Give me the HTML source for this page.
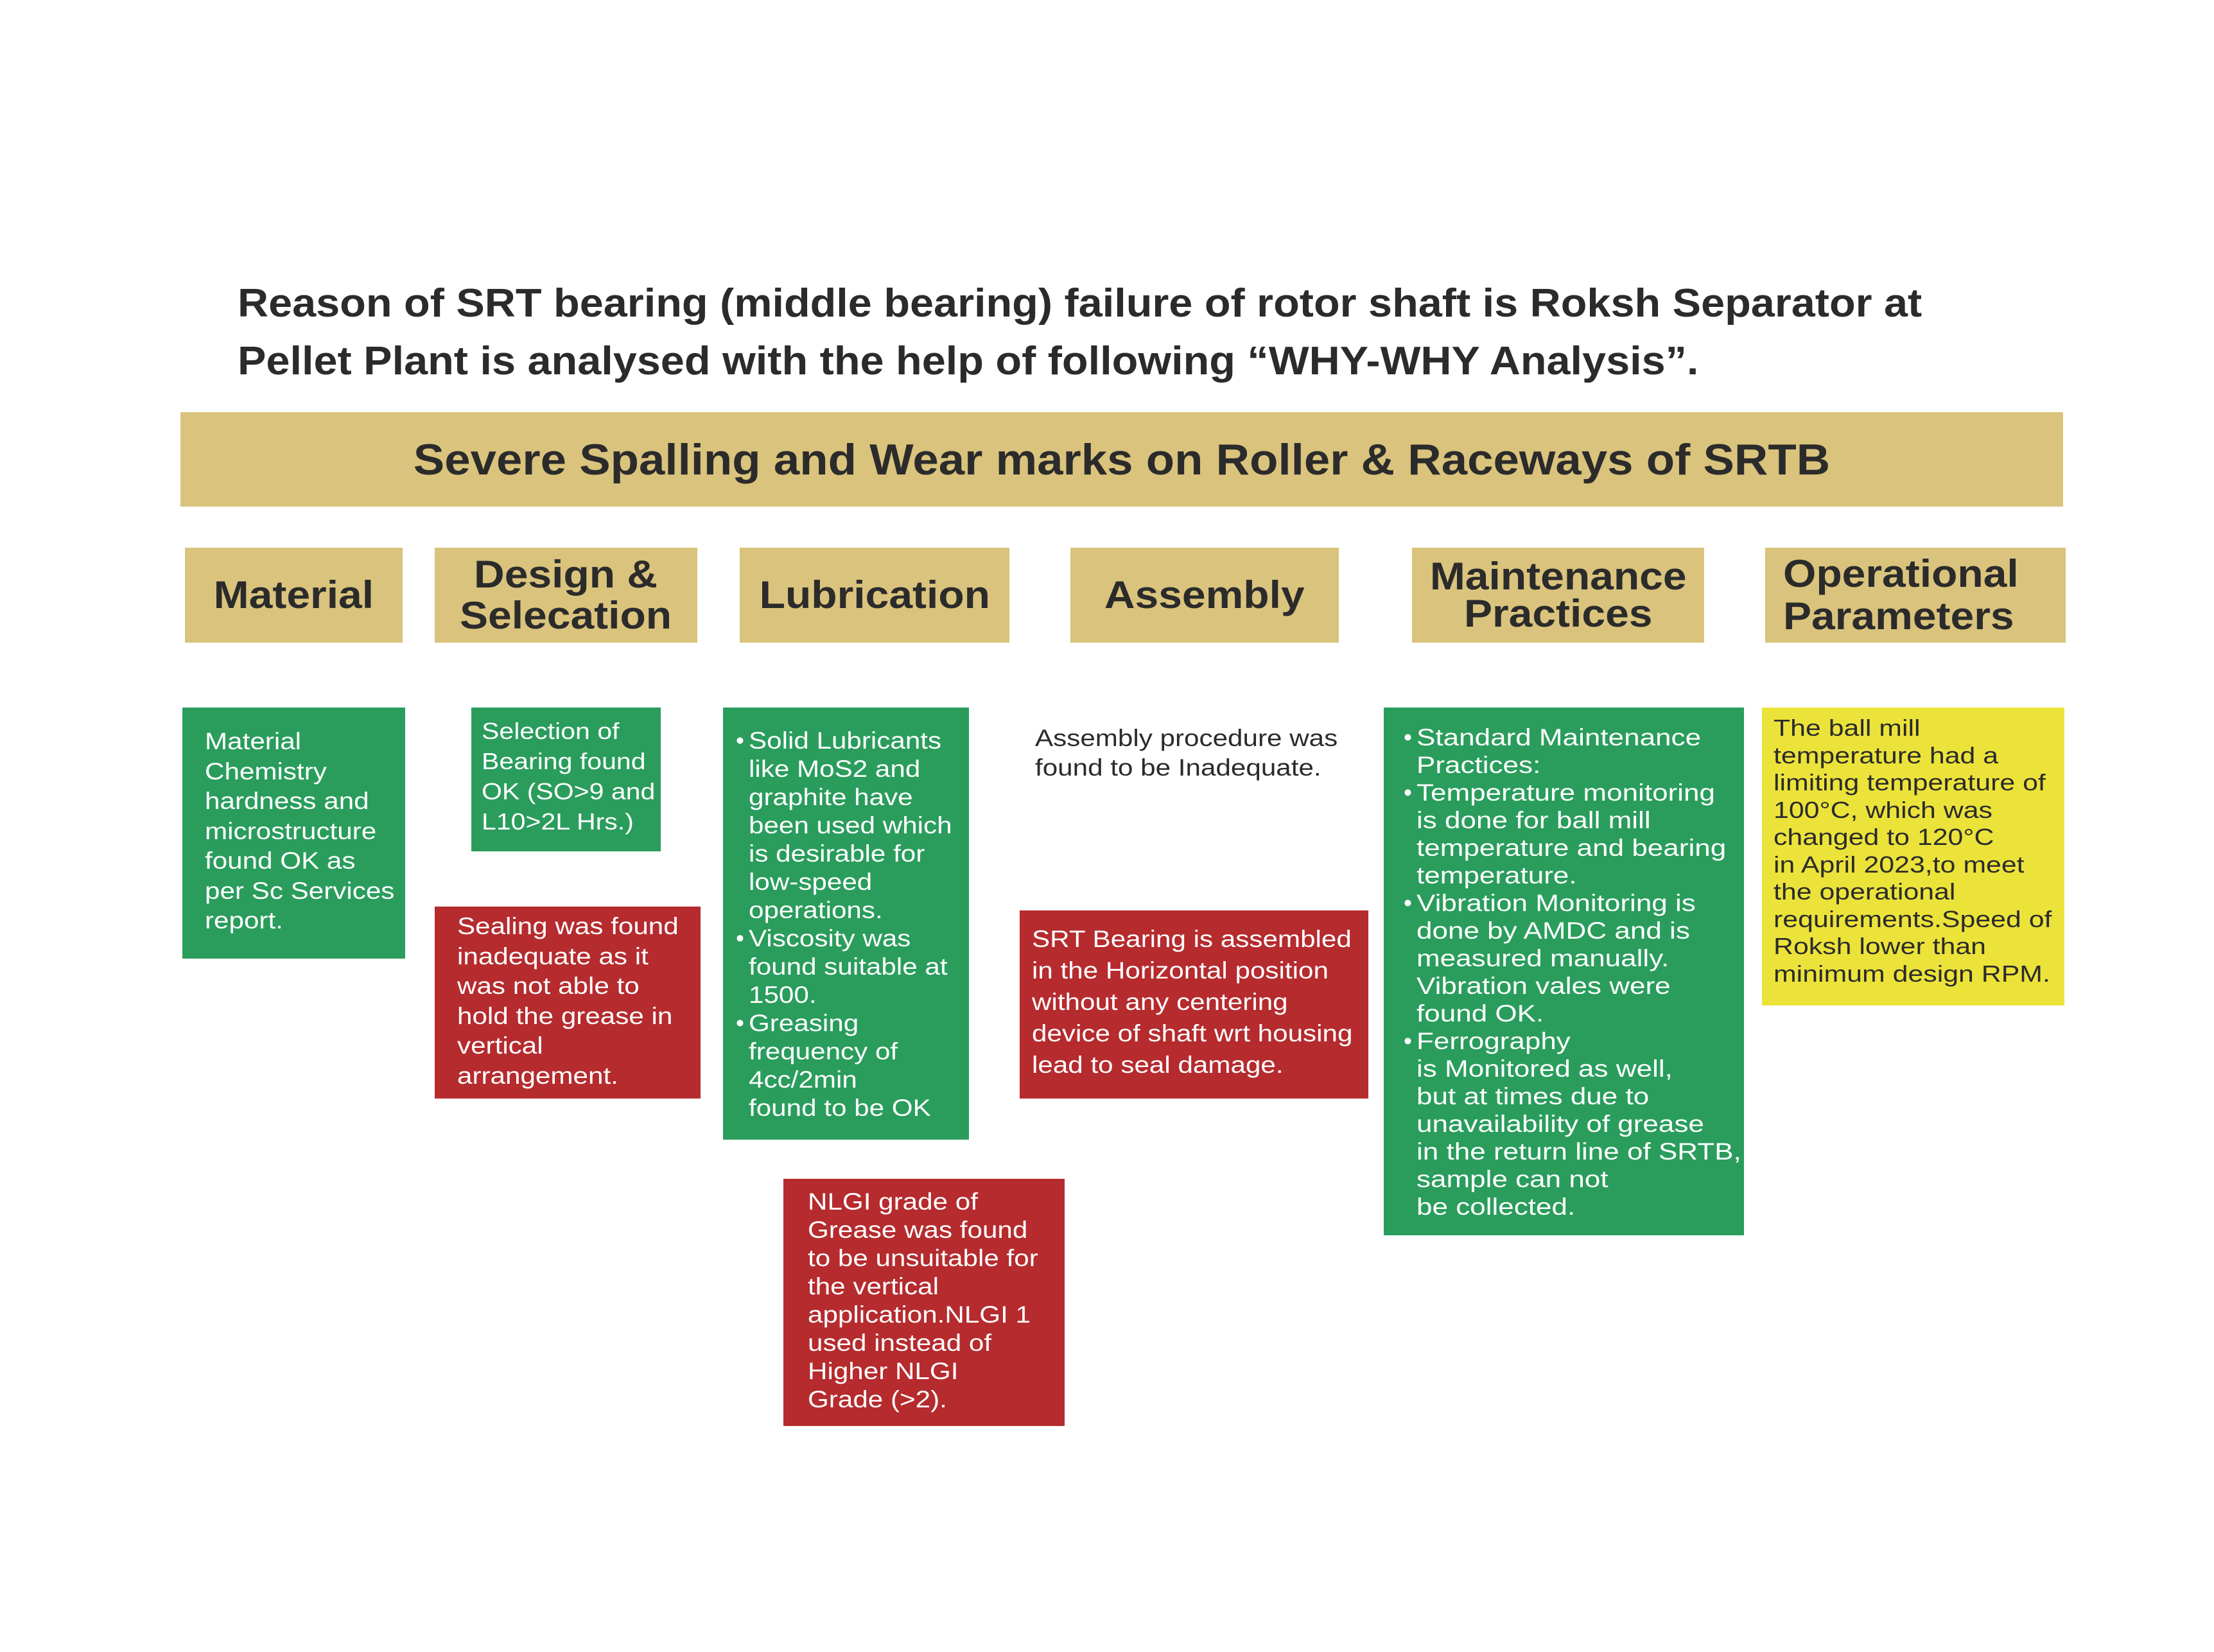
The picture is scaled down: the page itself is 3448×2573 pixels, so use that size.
<!DOCTYPE html>
<html><head><meta charset="utf-8"><style>
html,body{margin:0;padding:0}
body{width:3448px;height:2573px;position:relative;background:#fff;font-family:"Liberation Sans",sans-serif;color:#2b2b2b;overflow:hidden}
.a{position:absolute;box-sizing:border-box}
.gold{background:#dac37c;display:flex;align-items:center;justify-content:center;text-align:center;font-weight:bold;font-size:60px;line-height:64px;color:#2b2b2b}
.gold span{display:inline-block;transform:scaleX(1.1)}
.g{background:#2a9d5c;color:#fff}
.r{background:#b52b2e;color:#fff}
.y{background:#ece33a;color:#2b2b2b}
.t{position:absolute;white-space:nowrap;font-size:37px;transform-origin:0 0;transform:scaleX(1.14)}
.w{transform:scaleX(1.19)}
</style></head><body>
<div class="a" style="left:370px;top:428px;font-weight:bold;font-size:62px;line-height:90px;white-space:nowrap;transform-origin:0 0;transform:scaleX(1.074)">Reason of SRT bearing (middle bearing) failure of rotor shaft is Roksh Separator at<br>Pellet Plant is analysed with the help of following “WHY-WHY Analysis”.</div>
<div class="a gold" style="left:281px;top:642px;width:2932px;height:147px;font-size:68px"><span style="transform:scaleX(1.068)">Severe Spalling and Wear marks on Roller &amp; Raceways of SRTB</span></div>

<div class="a gold" style="left:288px;top:853px;width:339px;height:148px"><span>Material</span></div>
<div class="a gold" style="left:677px;top:853px;width:409px;height:148px"><span>Design &amp;<br>Selecation</span></div>
<div class="a gold" style="left:1152px;top:853px;width:420px;height:148px"><span>Lubrication</span></div>
<div class="a gold" style="left:1667px;top:853px;width:418px;height:148px"><span>Assembly</span></div>
<div class="a gold" style="left:2199px;top:853px;width:455px;height:148px;line-height:58px"><span>Maintenance<br>Practices</span></div>
<div class="a gold" style="left:2749px;top:853px;width:468px;height:148px;text-align:left;justify-content:flex-start;padding-left:28px;line-height:66px"><span style="transform-origin:0 50%">Operational<br>Parameters</span></div>

<div class="a g" style="left:284px;top:1102px;width:347px;height:391px"></div>
<div class="t" style="left:319px;top:1132px;line-height:46.5px;color:#fff">Material<br>Chemistry<br>hardness and<br>microstructure<br>found OK as<br>per Sc Services<br>report.</div>

<div class="a g" style="left:734px;top:1102px;width:295px;height:224px"></div>
<div class="t" style="left:750px;top:1115px;line-height:47px;color:#fff;font-size:36px">Selection of<br>Bearing found<br>OK (SO&gt;9 and<br>L10&gt;2L Hrs.)</div>

<div class="a r" style="left:677px;top:1412px;width:414px;height:299px"></div>
<div class="t" style="left:712px;top:1420px;line-height:46.6px;color:#fff">Sealing was found<br>inadequate as it<br>was not able to<br>hold the grease in<br>vertical<br>arrangement.</div>

<div class="a g" style="left:1126px;top:1102px;width:383px;height:673px"></div>
<div class="t" style="left:1146px;top:1132px;line-height:44px;color:#fff;transform:none">•<br><br><br><br><br><br><br>•<br><br><br>•</div>
<div class="t" style="left:1166px;top:1132px;line-height:44px;color:#fff">Solid Lubricants<br>like MoS2 and<br>graphite have<br>been used which<br>is desirable for<br>low-speed<br>operations.<br>Viscosity was<br>found suitable at<br>1500.<br>Greasing<br>frequency of<br>4cc/2min<br>found to be OK</div>

<div class="a r" style="left:1220px;top:1836px;width:438px;height:385px"></div>
<div class="t" style="left:1258px;top:1850px;line-height:44px;color:#fff">NLGI grade of<br>Grease was found<br>to be unsuitable for<br>the vertical<br>application.NLGI 1<br>used instead of<br>Higher NLGI<br>Grade (&gt;2).</div>

<div class="t" style="left:1612px;top:1127px;line-height:46px">Assembly procedure was<br>found to be Inadequate.</div>

<div class="a r" style="left:1588px;top:1418px;width:543px;height:293px"></div>
<div class="t" style="left:1607px;top:1438px;line-height:49px;color:#fff">SRT Bearing is assembled<br>in the Horizontal position<br>without any centering<br>device of shaft wrt housing<br>lead to seal damage.</div>

<div class="a g" style="left:2155px;top:1102px;width:561px;height:822px"></div>
<div class="t" style="left:2186px;top:1127px;line-height:43px;color:#fff;transform:none">•<br><br>•<br><br><br><br>•<br><br><br><br><br>•</div>
<div class="t w" style="left:2206px;top:1127px;line-height:43px;color:#fff">Standard Maintenance<br>Practices:<br>Temperature monitoring<br>is done for ball mill<br>temperature and bearing<br>temperature.<br>Vibration Monitoring is<br>done by AMDC and is<br>measured manually.<br>Vibration vales were<br>found OK.<br>Ferrography<br>is Monitored as well,<br>but at times due to<br>unavailability of grease<br>in the return line of SRTB,<br>sample can not<br>be collected.</div>

<div class="a y" style="left:2744px;top:1102px;width:471px;height:464px"></div>
<div class="t w" style="left:2762px;top:1113px;line-height:42.5px;font-size:36px">The ball mill<br>temperature had a<br>limiting temperature of<br>100°C, which was<br>changed to 120°C<br>in April 2023,to meet<br>the operational<br>requirements.Speed of<br>Roksh lower than<br>minimum design RPM.</div>
</body></html>
